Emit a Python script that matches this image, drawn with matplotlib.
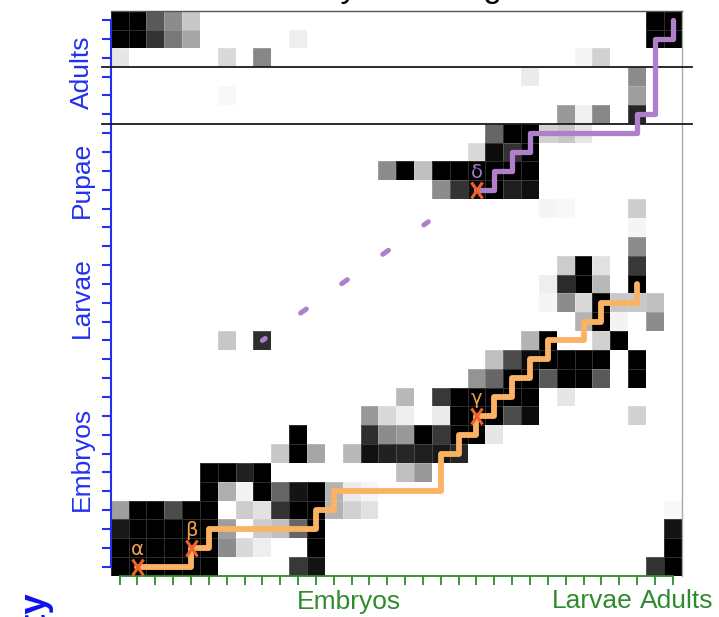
import numpy as np
import matplotlib
matplotlib.use("Agg")
import matplotlib.pyplot as plt
from matplotlib.markers import MarkerStyle
from matplotlib.transforms import Affine2D, blended_transform_factory

plt.rcParams['font.family'] = ["Liberation Sans", "DejaVu Sans"]

# ---------------- data ----------------
n_cols = 32
n_rows = 30

# darkness of each cell (1 = black, 0 = white); rows listed top to bottom
similarity = [
    [1, 1, .65, .45, .22, 0, 0, 0, 0, 0, 0, 0, 0, 0, 0, 0, 0, 0, 0, 0, 0, 0, 0, 0, 0, 0, 0, 0, 0, 0, 1, 1],
    [1, 1, .8, .53, .35, 0, 0, 0, 0, 0, .07, 0, 0, 0, 0, 0, 0, 0, 0, 0, 0, 0, 0, 0, 0, 0, 0, 0, 0, 0, 1, 1],
    [.1, 0, 0, 0, 0, 0, .15, 0, .47, 0, 0, 0, 0, 0, 0, 0, 0, 0, 0, 0, 0, 0, 0, 0, 0, 0, .04, .18, 0, 0, 0, 0],
    [0, 0, 0, 0, 0, 0, 0, 0, 0, 0, 0, 0, 0, 0, 0, 0, 0, 0, 0, 0, 0, 0, 0, .08, 0, 0, 0, 0, 0, .45, 0, 0],
    [0, 0, 0, 0, 0, 0, .03, 0, 0, 0, 0, 0, 0, 0, 0, 0, 0, 0, 0, 0, 0, 0, 0, 0, 0, 0, 0, 0, 0, .38, 0, 0],
    [0, 0, 0, 0, 0, 0, 0, 0, 0, 0, 0, 0, 0, 0, 0, 0, 0, 0, 0, 0, 0, 0, 0, 0, 0, .4, .06, .47, 0, .85, 0, 0],
    [0, 0, 0, 0, 0, 0, 0, 0, 0, 0, 0, 0, 0, 0, 0, 0, 0, 0, 0, 0, 0, .6, 1, 1, .18, .22, .1, 0, 0, 0, 0, 0],
    [0, 0, 0, 0, 0, 0, 0, 0, 0, 0, 0, 0, 0, 0, 0, 0, 0, 0, 0, 0, .15, .95, .8, 1, 0, 0, 0, 0, 0, 0, 0, 0],
    [0, 0, 0, 0, 0, 0, 0, 0, 0, 0, 0, 0, 0, 0, 0, .45, 1, .25, 1, 1, 1, 1, 1, 1, 0, 0, 0, 0, 0, 0, 0, 0],
    [0, 0, 0, 0, 0, 0, 0, 0, 0, 0, 0, 0, 0, 0, 0, 0, 0, 0, .45, .8, .95, 1, .88, .94, 0, 0, 0, 0, 0, 0, 0, 0],
    [0, 0, 0, 0, 0, 0, 0, 0, 0, 0, 0, 0, 0, 0, 0, 0, 0, 0, 0, 0, 0, 0, 0, 0, .04, .03, 0, 0, 0, .2, 0, 0],
    [0, 0, 0, 0, 0, 0, 0, 0, 0, 0, 0, 0, 0, 0, 0, 0, 0, 0, 0, 0, 0, 0, 0, 0, 0, 0, 0, 0, 0, .04, 0, 0],
    [0, 0, 0, 0, 0, 0, 0, 0, 0, 0, 0, 0, 0, 0, 0, 0, 0, 0, 0, 0, 0, 0, 0, 0, 0, 0, 0, 0, 0, .45, 0, 0],
    [0, 0, 0, 0, 0, 0, 0, 0, 0, 0, 0, 0, 0, 0, 0, 0, 0, 0, 0, 0, 0, 0, 0, 0, 0, .2, 1, .12, 0, .78, 0, 0],
    [0, 0, 0, 0, 0, 0, 0, 0, 0, 0, 0, 0, 0, 0, 0, 0, 0, 0, 0, 0, 0, 0, 0, 0, .07, .83, 1, .28, 0, 1, 0, 0],
    [0, 0, 0, 0, 0, 0, 0, 0, 0, 0, 0, 0, 0, 0, 0, 0, 0, 0, 0, 0, 0, 0, 0, 0, .04, .45, .15, 1, .22, .22, .25, 0],
    [0, 0, 0, 0, 0, 0, 0, 0, 0, 0, 0, 0, 0, 0, 0, 0, 0, 0, 0, 0, 0, 0, 0, 0, 0, 0, .3, 1, .05, 0, .45, 0],
    [0, 0, 0, 0, 0, 0, .22, 0, .82, 0, 0, 0, 0, 0, 0, 0, 0, 0, 0, 0, 0, 0, 0, .3, 1, 0, 0, .18, 1, 0, 0, 0],
    [0, 0, 0, 0, 0, 0, 0, 0, 0, 0, 0, 0, 0, 0, 0, 0, 0, 0, 0, 0, 0, .25, .7, .95, 1, 1, 1, 1, 0, 1, 0, 0],
    [0, 0, 0, 0, 0, 0, 0, 0, 0, 0, 0, 0, 0, 0, 0, 0, 0, 0, 0, 0, .42, .6, 1, 1, .65, 1, 1, .65, 0, 1, 0, 0],
    [0, 0, 0, 0, 0, 0, 0, 0, 0, 0, 0, 0, 0, 0, 0, 0, .28, 0, .78, 1, 1, 1, 1, 1, 0, .1, 0, 0, 0, 0, 0, 0],
    [0, 0, 0, 0, 0, 0, 0, 0, 0, 0, 0, 0, 0, 0, .4, .15, .07, 0, .08, 1, 1, 1, .7, .95, 0, 0, 0, 0, 0, .18, 0, 0],
    [0, 0, 0, 0, 0, 0, 0, 0, 0, 0, 1, 0, 0, 0, .82, .45, .4, 1, .78, 1, 1, .1, 0, 0, 0, 0, 0, 0, 0, 0, 0, 0],
    [0, 0, 0, 0, 0, 0, 0, 0, 0, .22, 1, .35, 0, .28, .93, .87, .85, .88, .9, .85, 0, 0, 0, 0, 0, 0, 0, 0, 0, 0, 0, 0],
    [0, 0, 0, 0, 0, 1, 1, .87, 1, 0, 0, 0, 0, 0, 0, 0, .25, .4, 0, 0, 0, 0, 0, 0, 0, 0, 0, 0, 0, 0, 0, 0],
    [0, 0, 0, 0, 0, 1, .32, .05, 1, .6, .92, 1, .3, .08, .04, 0, 0, 0, 0, 0, 0, 0, 0, 0, 0, 0, 0, 0, 0, 0, 0, 0],
    [.38, 1, 1, .7, 1, 1, 0, .2, .12, .8, 1, 1, .3, .18, .12, 0, 0, 0, 0, 0, 0, 0, 0, 0, 0, 0, 0, 0, 0, 0, 0, .03],
    [.9, 1, 1, 1, 1, 1, .38, 0, .2, .25, .6, 1, 0, 0, 0, 0, 0, 0, 0, 0, 0, 0, 0, 0, 0, 0, 0, 0, 0, 0, 0, .92],
    [1, 1, 1, 1, 1, 1, .45, .15, .07, 0, 0, 1, 0, 0, 0, 0, 0, 0, 0, 0, 0, 0, 0, 0, 0, 0, 0, 0, 0, 0, 0, 1],
    [1, 1, 1, 1, 1, 1, 0, 0, 0, 0, .78, .92, 0, 0, 0, 0, 0, 0, 0, 0, 0, 0, 0, 0, 0, 0, 0, 0, 0, 0, .8, 1],
]

# stage boundaries on the y axis (between rows)
stage_boundaries = [2.5, 5.5]

# y stage labels and their row positions
y_stage_labels = ["Adults", "Pupae", "Larvae", "Embryos"]
y_stage_rows = [2.75, 8.5, 14.75, 23.3]

# x stage labels and their column positions
x_stage_labels = ["Embryos", "Larvae", "Adults"]
x_stage_cols = [12.86, 26.5, 31.24]

# orange alignment path (col, row)
orange_cols = [1, 4, 4, 5, 5, 11, 11, 12, 12, 18, 18, 19, 19, 20, 20, 21, 21, 22, 22, 23, 23, 24, 24, 26, 26, 27, 27, 29, 29]
orange_rows = [29, 29, 28, 28, 27, 27, 26, 26, 25, 25, 23, 23, 22, 22, 21, 21, 20, 20, 19, 19, 18, 18, 17, 17, 16, 16, 15, 15, 14]

# purple alignment path (col, row)
purple_cols = [20, 21, 21, 22, 22, 23, 23, 29, 29, 30, 30, 31, 31]
purple_rows = [9, 9, 8, 8, 7, 7, 6, 6, 5, 5, 1, 1, 0]

# purple dashed connection
dashed_cols = [8, 17.3]
dashed_rows = [17, 10.7]

# marked points
marker_cols = [1, 4, 20, 20]
marker_rows = [29, 28, 21, 9]
marker_labels = ["α", "β", "γ", "δ"]

# ---------------- style ----------------
W, H = 719, 617
BLUE = "#2230F0"
GREEN = "#2E8B2E"
ORANGE = "#FBB264"
PURPLE = "#B07FCC"
XRED = "#F0602A"
label_colors = ["#F2A24E", "#F2A24E", "#E9A646", "#A27ACC"]

fig = plt.figure(figsize=(W / 100, H / 100), dpi=100)
ax_left, ax_right, ax_top, ax_bottom = 110.7, 681.7, 10.7, 576.0
ax = fig.add_axes([ax_left / W, 1 - ax_bottom / H, (ax_right - ax_left) / W, (ax_bottom - ax_top) / H])

data = np.array(similarity, dtype=float)
xe = np.arange(n_cols + 1) - 0.5
ye = np.arange(n_rows + 1) - 0.5
ax.pcolormesh(xe, ye, data, cmap="gray_r", vmin=0, vmax=1,
              edgecolors=(1, 1, 1, 0.18), linewidth=0.5, zorder=1)
ax.set_xlim(-0.5, n_cols - 0.5)
ax.set_ylim(n_rows - 0.5, -0.5)

# stage separators extending beyond the axes
for b in stage_boundaries:
    ax.plot([-1.0, n_cols + 0.1], [b, b], color="#1a1a1a", lw=1.3, clip_on=False, zorder=3)

# dashed purple connector
ax.plot(dashed_cols, dashed_rows, color=PURPLE, lw=3.6, solid_capstyle="round",
        dash_capstyle="round", linestyle=(0.7, (1.4, 8.7)), zorder=4)

# alignment paths
ax.plot(orange_cols, orange_rows, color=ORANGE, lw=4.2, solid_joinstyle="round",
        solid_capstyle="round", zorder=4)
ax.plot(purple_cols, purple_rows, color=PURPLE, lw=3.8, solid_joinstyle="round",
        solid_capstyle="round", zorder=4)

# markers
xm = MarkerStyle("x", transform=Affine2D().scale(0.72, 1.0))
ax.plot(marker_cols, marker_rows, linestyle="none", marker=xm, markersize=11,
        markeredgewidth=2.2, color=XRED, zorder=5)
for c, r, lab, col in zip(marker_cols, marker_rows, marker_labels, label_colors):
    ax.annotate(lab, (c, r), xytext=(0, 12.5), textcoords="offset points",
                ha="center", va="center", fontsize=14, color=col, zorder=6,
                family=["DejaVu Sans"])

# ticks and spines
ax.set_xticks(np.arange(n_cols))
ax.set_yticks(np.arange(n_rows))
ax.tick_params(axis="y", direction="out", length=6.5, width=1.5, color=BLUE,
               labelleft=False)
ax.tick_params(axis="x", direction="out", length=6.5, width=1.3, color=GREEN,
               labelbottom=False)
ax.spines["left"].set_color(BLUE)
ax.spines["left"].set_linewidth(1.5)
ax.spines["left"].set_bounds(0, n_rows - 1)
ax.spines["bottom"].set_color(GREEN)
ax.spines["bottom"].set_linewidth(1.3)
ax.spines["bottom"].set_bounds(0, n_cols - 1)
ax.spines["top"].set_color("#555555")
ax.spines["top"].set_linewidth(1.0)
ax.spines["right"].set_color("#aaaaaa")
ax.spines["right"].set_linewidth(1.0)

# stage labels
ytrans = blended_transform_factory(fig.transFigure, ax.transData)
for lab, r in zip(y_stage_labels, y_stage_rows):
    ax.text(89.3 / W, r, lab, transform=ytrans, rotation=90, rotation_mode="anchor",
            ha="center", va="baseline", fontsize=19, color=BLUE)
xtrans = blended_transform_factory(ax.transData, fig.transFigure)
for lab, c in zip(x_stage_labels, x_stage_cols):
    ax.text(c, 1 - 608.5 / H, lab, transform=xtrans, ha="center", va="baseline",
            fontsize=19, color=GREEN)

# partially visible titles
fig.text(0.503, 1 + 3 / H, "Similarity matching", ha="center", va="baseline",
         fontsize=24, color="black")
fig.text(44.5 / W, 1 - 591 / H, "Similarity", rotation=90, rotation_mode="anchor",
         ha="right", va="baseline", fontsize=26, fontweight="bold", color="#1010F0")

fig.savefig("out.png", dpi=100)
